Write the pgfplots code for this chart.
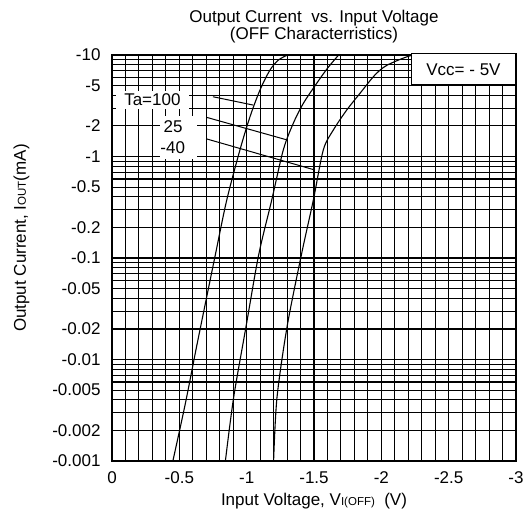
\documentclass[border=0pt]{standalone}
\usepackage{fontspec}
\setmainfont{Liberation Sans}
\usepackage{pgfplots}
\pgfplotsset{compat=1.18}
\newcommand{\fs}{\fontsize{17}{19.5}\selectfont}
\begin{document}
\begin{tikzpicture}[x=1pt,y=1pt]
\useasboundingbox (-112,-53) rectangle (415,461);
\begin{axis}[
  at={(0,0)}, anchor=south west,
  scale only axis, width=404pt, height=406pt,
  xmin=0, xmax=3, ymode=log, ymin=0.001, ymax=10,
  xtick={0,0.5,1,1.5,2,2.5,3},
  xticklabels={0,-0.5,-1,-1.5,-2,-2.5,-3},
  minor xtick={0.1,0.2,0.3,0.4,0.6,0.7,0.8,0.9,1.1,1.2,1.3,1.4,1.6,1.7,1.8,1.9,2.1,2.2,2.3,2.4,2.6,2.7,2.8,2.9},
  ytick={0.001,0.002,0.005,0.01,0.02,0.05,0.1,0.2,0.5,1,2,5,10},
  yticklabels={-0.001,-0.002,-0.005,-0.01,-0.02,-0.05,-0.1,-0.2,-0.5,-1,-2,-5,-10},
  minor ytick={0.003,0.004,0.006,0.007,0.008,0.009,0.03,0.04,0.06,0.07,0.08,0.09,0.3,0.4,0.6,0.7,0.8,0.9,3,4,6,7,8,9},
  grid=both,
  major grid style={black, line width=1.1pt},
  minor grid style={black, line width=1.1pt},
  axis line style={black, line width=1.1pt},
  major tick length=0pt, minor tick length=0pt,
  tick label style={font=\fs, text=black},
  yticklabel style={xshift=-8pt},
  xticklabel style={yshift=-7pt},
  clip=false,
]
\addplot[black, line width=1.1pt, smooth, tension=0.5] coordinates {
 (0.452,0.001) (0.545,0.0037) (0.631,0.014) (0.767,0.107)
 (0.852,0.372) (0.95,1.16) (1.025,2.47) (1.099,4.52) (1.173,7.1) (1.235,8.9) (1.297,9.9)};
\addplot[black, line width=1.1pt, smooth, tension=0.5] coordinates {
 (0.842,0.001) (0.903,0.0042) (0.995,0.021) (1.089,0.107) (1.186,0.372)
 (1.272,1.16) (1.346,2.12) (1.421,3.34) (1.52,5.26) (1.60,7.4) (1.68,9.9)};
\addplot[black, line width=1.1pt, smooth, tension=0.5] coordinates {
 (1.2,0.001) (1.225,0.0042) (1.30,0.021) (1.406,0.107) (1.495,0.372)
 (1.569,1.16) (1.643,1.82) (1.743,2.87) (1.842,4.2) (1.95,6.3) (2.04,7.9) (2.21,9.8) (2.3,10)};
% labels
\node[fill=white, inner xsep=8pt, inner ysep=3pt, font=\fs] at (axis cs:0.30,3.6) {Ta=100};
\fill[white] (axis cs:0.36,2.5) rectangle (axis cs:0.63,0.95);
\node[font=\fs] at (axis cs:0.453,1.95) {25};
\node[font=\fs] at (axis cs:0.451,1.21) {-40};
\draw[black, line width=1pt] (axis cs:0.750,3.88) -- (axis cs:1.049,3.21);
\draw[black, line width=1pt] (axis cs:0.703,2.43) -- (axis cs:1.297,1.46);
\draw[black, line width=1pt] (axis cs:0.703,1.49) -- (axis cs:1.507,0.736);
% Vcc box
\draw[black, line width=1.1pt, fill=white] (axis cs:2.225,10.3) rectangle (axis cs:3,5.06);
\node[font=\fs] at (axis cs:2.61,7.2) {Vcc= - 5V};
% title
\node[font=\fs, align=center, anchor=south] at (rel axis cs:0.5,1) [yshift=8pt] {Output Current\ \ vs. Input Voltage\\[-2pt](OFF Characterristics)};
% axis labels
\node[font=\fs, anchor=center] at (rel axis cs:0.5,0) [yshift=-40pt] {Input Voltage, V{\fontsize{11.5}{12}\selectfont I(OFF)}\ \ (V)};
\node[font=\fs, rotate=90, anchor=center] at (rel axis cs:-0.224,0.549) {Output Current, I{\fontsize{11.5}{12}\selectfont OUT}(mA)};
\end{axis}
\end{tikzpicture}
\end{document}
